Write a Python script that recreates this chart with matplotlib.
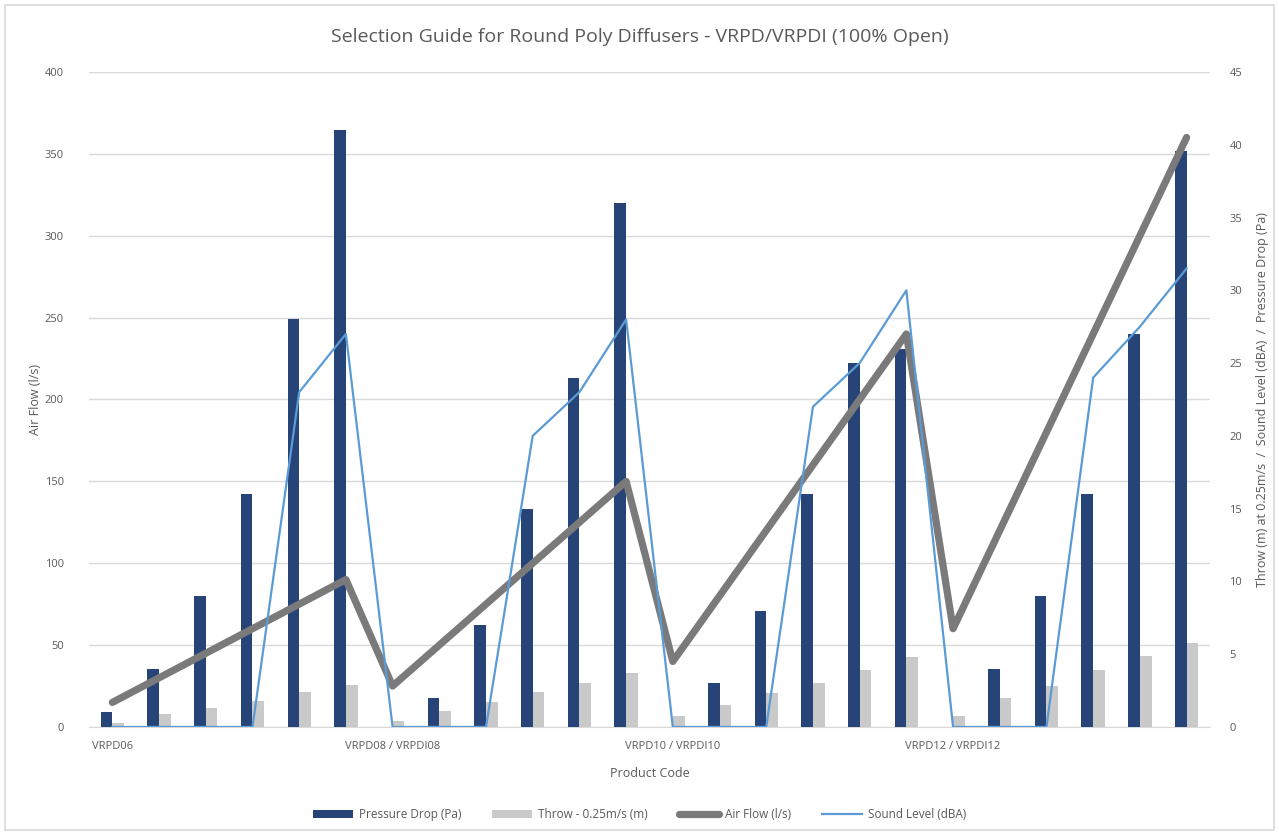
import matplotlib
matplotlib.use("Agg")
import matplotlib.pyplot as plt
from matplotlib.patches import Rectangle
import numpy as np

# ---------------- data ----------------
group_labels = ["VRPD06", "VRPD08 / VRPDI08", "VRPD10 / VRPDI10", "VRPD12 / VRPDI12"]
group_size = 6

pressure_drop = [1, 4, 9, 16, 28, 41,
                 0, 2, 7, 15, 24, 36,
                 0, 3, 8, 16, 25, 26,
                 0, 4, 9, 16, 27, 39.6]
throw = [0.3, 0.9, 1.3, 1.8, 2.4, 2.9,
         0.4, 1.1, 1.7, 2.4, 3.0, 3.7,
         0.75, 1.5, 2.3, 3.0, 3.9, 4.8,
         0.75, 2.0, 2.8, 3.9, 4.9, 5.8]
air_flow = [15, 30, 45, 60, 75, 90,
            25, 50, 75, 100, 125, 150,
            40, 80, 120, 160, 200, 240,
            60, 120, 180, 240, 300, 360]
sound_level = [0, 0, 0, 0, 23, 27,
               0, 0, 0, 20, 23, 28,
               0, 0, 0, 22, 25, 30,
               0, 0, 0, 24, 27.5, 31.5]

left_ticks = [0, 50, 100, 150, 200, 250, 300, 350, 400]
right_ticks = [0, 5, 10, 15, 20, 25, 30, 35, 40, 45]

# ---------------- style ----------------
plt.rcParams['font.family'] = ['Open Sans', 'DejaVu Sans']
TXT = '#595959'
NAVY = '#264478'
LGRAY = '#C9C9C9'
DGRAY = '#7A7A7A'
BLUE = '#5B9BD5'
GRID = '#D9D9D9'

fig = plt.figure(figsize=(12.79, 8.33), dpi=100)
fig.patch.set_facecolor('white')
fig.add_artist(Rectangle((0.004, 0.004), 0.992, 0.990, transform=fig.transFigure,
                         fill=False, edgecolor='#D9D9D9', linewidth=1.2))

pos = [0.0696, 0.1273, 0.946 - 0.0696, 0.9136 - 0.1273]
x = np.arange(len(air_flow))

ax_left = fig.add_axes(pos)
ax_left.set_zorder(0)
ax_left.set_xlim(-0.5, len(x) - 0.5)
ax_left.set_ylim(0, 400)
ax_left.set_yticks(left_ticks)
ax_left.grid(axis='y', color=GRID, linewidth=1.0)
ax_left.set_axisbelow(True)
for s in ax_left.spines.values():
    s.set_visible(False)
ax_left.spines['bottom'].set_visible(True)
ax_left.spines['bottom'].set_color(GRID)
ax_left.tick_params(axis='y', length=0, labelsize=8, labelcolor=TXT, pad=18)
ax_left.tick_params(axis='x', length=0, labelsize=8, labelcolor=TXT, pad=10)
ax_left.set_xticks([i * group_size for i in range(len(group_labels))])
ax_left.set_xticklabels(group_labels)
ax_left.set_ylabel('Air Flow (l/s)', color=TXT, fontsize=9, labelpad=2)
ax_left.set_xlabel('Product Code', color=TXT, fontsize=9, labelpad=11)

ax_right = ax_left.twinx()
ax_right.set_zorder(1)
ax_right.patch.set_visible(False)
ax_right.set_ylim(0, 45)
ax_right.set_yticks(right_ticks)
for s in ax_right.spines.values():
    s.set_visible(False)
ax_right.tick_params(axis='y', length=0, labelsize=8, labelcolor=TXT, pad=14)
ax_right.set_ylabel('Throw (m) at 0.25m/s  /  Sound Level (dBA)  /  Pressure Drop (Pa)',
                    color=TXT, fontsize=9, labelpad=10)

w = 0.25
b1 = ax_right.bar(x - w / 2, pressure_drop, width=w, color=NAVY, label='Pressure Drop (Pa)')
b2 = ax_right.bar(x + w / 2, throw, width=w, color=LGRAY, label='Throw - 0.25m/s (m)')

ax_air = fig.add_axes(pos, sharex=ax_left, sharey=ax_left)
ax_air.set_zorder(2)
ax_air.patch.set_visible(False)
ax_air.axis('off')
l1, = ax_air.plot(x, air_flow, color=DGRAY, linewidth=5.2, solid_capstyle='round',
                  solid_joinstyle='round', label='Air Flow (l/s)')

ax_snd = fig.add_axes(pos, sharex=ax_right, sharey=ax_right)
ax_snd.set_zorder(3)
ax_snd.patch.set_visible(False)
ax_snd.axis('off')
l2, = ax_snd.plot(x, sound_level, color=BLUE, linewidth=1.6, label='Sound Level (dBA)')

fig.suptitle('Selection Guide for Round Poly Diffusers - VRPD/VRPDI (100% Open)',
             color=TXT, fontsize=14, y=0.966)

fig.legend(handles=[b1, b2, l1, l2], loc='center', bbox_to_anchor=(0.5, 0.022),
           ncol=4, frameon=False, fontsize=8.5, labelcolor=TXT, handlelength=3.4,
           columnspacing=2.6, handletextpad=0.5)

fig.savefig('out.png', dpi=100, facecolor='white')
